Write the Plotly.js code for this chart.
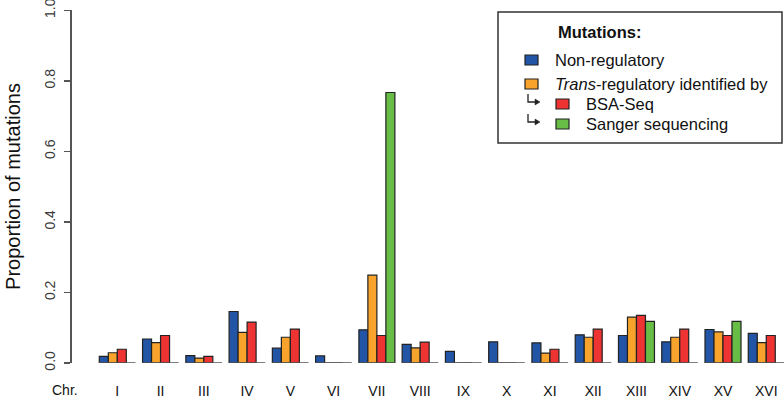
<!DOCTYPE html>
<html>
<head>
<meta charset="utf-8">
<script src="https://cdn.plot.ly/plotly-3.0.1.min.js"></script>
<style>
  html, body { margin: 0; padding: 0; background: #fff; }
  #chart { width: 784px; height: 400px; }
</style>
</head>
<body>
<div id="chart"></div>
<script>
// ---- Data ----
const chromosomes = ['I','II','III','IV','V','VI','VII','VIII','IX','X','XI','XII','XIII','XIV','XV','XVI'];
const nonRegulatory = [0.019,0.068,0.021,0.146,0.042,0.020,0.094,0.053,0.033,0.060,0.057,0.080,0.078,0.060,0.095,0.084];
const transRegulatory = [0.029,0.058,0.014,0.087,0.073,0,0.249,0.043,0,0,0.028,0.073,0.130,0.073,0.088,0.058];
const bsaSeq = [0.039,0.078,0.019,0.116,0.096,0,0.078,0.059,0,0,0.039,0.096,0.135,0.096,0.078,0.078];
const sangerSeq = [null,null,null,null,null,null,0.767,null,null,null,null,null,0.118,null,0.118,null];
const yTicks = [0, 0.2, 0.4, 0.6, 0.8, 1.0];
const yTickText = ['0.0', '0.2', '0.4', '0.6', '0.8', '1.0'];
const seriesNames = ['Non-regulatory', '<i>Trans</i>-regulatory identified by', 'BSA-Seq', 'Sanger sequencing'];

// ---- Styles ----
const colors = ['#2255A5', '#F8A42C', '#EE3333', '#67BD45'];
const FONT = 'Liberation Sans, Arial, Helvetica, sans-serif';
const W = 784, H = 400;
const M = { l: 72, r: 0, t: 10, b: 37 };
const PW = W - M.l - M.r, PH = H - M.t - M.b;
const px = v => (v - M.l) / PW;          // pixel x -> paper x
const py = v => (H - M.b - v) / PH;      // pixel y -> paper y

const seriesData = [nonRegulatory, transRegulatory, bsaSeq, sangerSeq];
const traces = seriesData.map((vals, k) => ({
  type: 'bar',
  x: chromosomes,
  y: vals,
  name: seriesNames[k],
  marker: { color: colors[k], line: { color: '#222', width: 1.2 } },
  showlegend: false,
  hoverinfo: 'x+y'
}));

const shapes = [];
// per-group baselines
chromosomes.forEach((c, i) => {
  shapes.push({ type: 'line', xref: 'x', yref: 'y', x0: i - 0.425, x1: i + 0.42, y0: 0, y1: 0,
    line: { color: '#555', width: 1.6 } });
});
// legend box
shapes.push({ type: 'rect', xref: 'paper', yref: 'paper', x0: px(498), x1: px(782), y0: py(143), y1: py(12),
  line: { color: '#333', width: 1.5 }, fillcolor: 'rgba(0,0,0,0)' });

const annotations = [];
annotations.push({ xref: 'paper', yref: 'paper', x: px(556), y: py(32), xanchor: 'left', yanchor: 'middle',
  text: '<b>Mutations:</b>', showarrow: false, font: { family: FONT, size: 16.5, color: '#111' } });

const legendRows = [
  { sq: 525, tx: 553, y: 60 },
  { sq: 525, tx: 553, y: 84 },
  { sq: 556, tx: 584, y: 104 },
  { sq: 556, tx: 584, y: 124 }
];
legendRows.forEach((r, k) => {
  shapes.push({ type: 'rect', xref: 'paper', yref: 'paper', x0: px(r.sq), x1: px(r.sq + 13), y0: py(r.y + 5), y1: py(r.y - 5),
    fillcolor: colors[k], line: { color: '#222', width: 1.2 } });
  annotations.push({ xref: 'paper', yref: 'paper', x: px(r.tx), y: py(r.y), xanchor: 'left', yanchor: 'middle',
    text: seriesNames[k], showarrow: false, font: { family: FONT, size: 16.5, color: '#111' } });
  if (k >= 2) {
    // small bent arrow
    const ax = 528, ay0 = r.y - 10, ay1 = r.y - 2;
    shapes.push({ type: 'path', xref: 'paper', yref: 'paper',
      path: `M ${px(ax)} ${py(ay0)} L ${px(ax)} ${py(ay1)} L ${px(ax + 8)} ${py(ay1)}`,
      line: { color: '#222', width: 1.3 } });
    shapes.push({ type: 'path', xref: 'paper', yref: 'paper',
      path: `M ${px(ax + 7)} ${py(ay1 - 3)} L ${px(ax + 12)} ${py(ay1)} L ${px(ax + 7)} ${py(ay1 + 3)} Z`,
      fillcolor: '#222', line: { color: '#222', width: 0.5 } });
  }
});

// "Chr." label
annotations.push({ xref: 'paper', yref: 'paper', x: px(65), y: py(390), xanchor: 'center', yanchor: 'middle',
  text: 'Chr.', showarrow: false, font: { family: FONT, size: 14, color: '#111' } });

const layout = {
  width: W, height: H,
  margin: M,
  paper_bgcolor: '#fff', plot_bgcolor: '#fff',
  font: { family: FONT, color: '#111' },
  barmode: 'group',
  bargap: 0.168,
  bargroupgap: 0,
  xaxis: {
    type: 'category',
    range: [-1.047, 15.41],
    showgrid: false, zeroline: false, showline: false, ticks: '',
    tickfont: { family: FONT, size: 14, color: '#111' },
    ticklabelstandoff: 18,
    fixedrange: true
  },
  yaxis: {
    range: [0, 1.001],
    tickvals: yTicks,
    ticktext: yTickText,
    tickangle: -90,
    ticklabeloverflow: 'allow',
    ticks: 'outside', ticklen: 6, tickwidth: 1.4, tickcolor: '#555',
    showline: true, linecolor: '#555', linewidth: 1.6,
    showgrid: false, zeroline: false,
    tickfont: { family: FONT, size: 14, color: '#3a3a3a' },
    ticklabelstandoff: 4,
    title: { text: 'Proportion of mutations', font: { family: FONT, size: 20, color: '#111' }, standoff: 16 },
    automargin: false,
    fixedrange: true
  },
  shapes: shapes,
  annotations: annotations,
  showlegend: false
};

Plotly.newPlot('chart', traces, layout, { displayModeBar: false, staticPlot: true });
</script>
</body>
</html>
